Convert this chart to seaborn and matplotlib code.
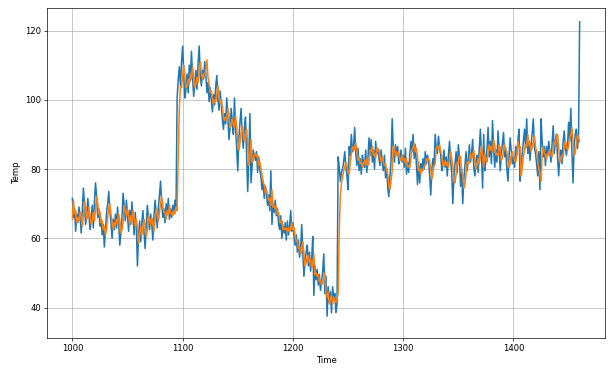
import numpy as np
import pandas as pd
import matplotlib
matplotlib.use("Agg")
import matplotlib.pyplot as plt
import seaborn as sns

# time steps of the validation window
time = np.arange(1000, 1461)

series_a = [71.5, 66.0, 68.5, 62.0, 67.0, 64.5, 69.0, 66.5, 61.5, 68.0,
            74.5, 70.0, 64.0, 66.5, 71.5, 67.0, 62.5, 65.0, 69.5, 63.0,
            70.5, 76.0, 72.0, 66.0, 68.5, 63.5, 65.5, 61.0, 64.0, 57.5,
            62.0, 67.5, 70.0, 73.5, 68.0, 64.5, 60.0, 65.5, 62.5, 67.0,
            63.0, 69.0, 64.5, 58.0, 61.5, 66.0, 73.0, 69.5, 65.0, 71.0,
            66.5, 62.0, 68.0, 64.0, 70.5, 66.0, 61.0, 67.5, 63.5, 52.0,
            60.5, 65.0, 59.0, 64.5, 68.0, 61.5, 57.0, 63.0, 69.5, 66.0,
            62.5, 67.0, 64.0, 59.5, 66.5, 71.0, 67.5, 63.0, 69.0, 72.5,
            76.5, 70.0, 66.0, 68.5, 64.5, 70.0, 67.0, 71.5, 65.5, 68.5,
            66.0, 69.5, 67.5, 71.0, 68.5]
series_b = [100.5, 106.0, 109.5, 104.0, 111.0, 115.5, 108.0, 100.5, 103.0, 107.5,
            102.0, 110.0, 105.5, 114.0, 106.5, 101.0, 104.5, 108.5, 103.0, 110.5,
            115.5, 107.0, 104.0, 108.5, 106.0, 111.0, 107.5, 102.0, 105.0, 99.5,
            103.5, 100.0, 96.5, 101.5, 98.5, 104.0, 107.0, 100.0, 97.0, 102.5,
            99.0, 94.5, 91.5, 96.0, 93.0, 100.5, 95.0, 88.5, 92.0, 97.5,
            94.0, 90.0, 100.5, 91.5, 86.0, 79.5, 89.0, 93.5, 97.5, 90.0,
            86.0, 92.0, 95.0, 84.5, 73.5, 83.0, 96.0, 76.0, 81.0, 85.5,
            84.0, 82.5, 85.0, 79.0, 83.5, 80.0, 77.5, 74.0, 76.5, 71.5,
            75.0, 73.0, 69.5, 72.5, 68.0, 79.5, 64.0, 70.0, 67.5, 71.0,
            66.5, 68.5, 64.0, 62.5, 66.5, 60.0, 63.5, 61.5, 64.5, 59.5,
            65.0, 61.0, 63.5, 68.0, 62.0, 64.5, 60.5, 58.0, 61.0, 56.0,
            59.5, 54.5, 57.0, 64.0, 55.5, 49.0, 53.5, 56.0, 58.0, 52.0,
            56.0, 50.5, 54.0, 60.5, 43.5, 52.0, 48.0, 51.0, 46.5, 49.5,
            45.0, 47.5, 50.5, 55.5, 44.0, 49.0, 37.5, 46.0, 41.5, 44.5,
            38.5, 46.0, 42.5, 44.0, 38.5, 41.0]
series_c = [83.5, 80.5, 76.5, 79.0, 80.0, 82.0, 85.0, 81.0, 78.0, 74.0,
            86.5, 84.0, 90.0, 85.0, 86.5, 92.0, 84.5, 81.0, 86.0, 79.5,
            83.0, 78.5, 84.0, 82.0, 80.5, 85.5, 79.0, 83.0, 89.0, 84.0,
            88.5, 82.0, 85.5, 80.0, 88.0, 84.5, 86.0, 83.0, 81.0, 85.5,
            82.0, 79.5, 84.0, 77.5, 80.0, 74.5, 72.0, 78.0, 82.5, 94.5,
            86.0, 82.0, 87.0, 84.0, 86.5, 81.5, 83.0, 85.5, 82.0, 84.0,
            80.5, 86.0, 78.5, 82.0, 79.0, 84.5, 88.0, 85.0, 90.0, 83.0,
            87.0, 81.5, 75.5, 82.0, 76.0, 81.5, 79.5, 83.0, 80.0, 85.0,
            81.5, 84.0, 82.5, 78.0, 72.5, 80.0, 83.0, 81.0, 90.0, 86.0,
            84.5, 89.5, 86.0, 84.0, 79.5, 81.0, 85.5, 80.5, 83.5, 78.0,
            84.0, 88.0, 82.5, 79.0, 70.0, 77.5, 81.5, 85.0, 79.0, 87.0,
            83.5, 75.0, 80.0, 70.0, 77.0, 81.0, 85.0, 79.5, 82.5, 87.0,
            82.0, 84.5, 88.5, 80.5, 78.0, 82.5, 84.0, 79.0, 86.0, 91.5,
            84.5, 74.5, 90.0, 79.5, 82.5, 86.0, 92.0, 83.5, 88.0, 81.5,
            94.0, 86.0, 80.5, 85.5, 82.0, 91.0, 85.0, 79.5, 84.0, 87.5,
            90.5, 83.5, 86.0, 80.0, 76.5, 84.0, 89.0, 85.0, 81.5, 83.5,
            80.5, 86.5, 84.0, 88.0, 91.5, 76.5, 82.0, 84.5, 88.0, 91.5,
            86.0, 94.5, 84.5, 88.0, 82.5, 87.0, 90.5, 94.5, 86.0, 84.5,
            81.5, 78.0, 85.0, 74.0, 94.5, 88.0, 83.5, 86.5, 81.0, 86.5,
            84.0, 88.0, 85.0, 82.0, 87.0, 92.5, 84.5, 88.0, 90.0, 83.0,
            78.0, 84.0, 85.5, 81.5, 88.0, 91.0, 86.5, 84.0, 86.5, 93.5,
            88.0, 97.5, 85.0, 76.0, 86.5, 90.0, 91.5, 86.0, 89.0, 122.5]

# forecast (orange)
forecast_a = [65.5, 71.0, 67.0, 68.0, 64.5, 66.0, 65.0, 67.5, 66.0, 63.5,
              66.5, 70.5, 69.0, 65.5, 66.0, 69.0, 66.5, 64.0, 65.0, 67.5,
              65.0, 68.5, 72.0, 70.0, 67.0, 67.5, 64.5, 65.0, 62.5, 63.5,
              61.0, 62.5, 66.0, 68.5, 70.0, 67.0, 65.0, 62.5, 64.5, 63.5,
              65.5, 64.0, 67.0, 65.0, 61.5, 62.5, 65.0, 69.5, 68.0, 66.5,
              68.5, 66.5, 64.0, 66.5, 65.0, 68.0, 66.0, 63.5, 65.5, 63.0,
              58.5, 61.0, 63.5, 61.0, 63.0, 65.5, 63.5, 60.5, 62.5, 66.5,
              65.5, 64.0, 66.0, 64.5, 62.0, 65.0, 68.5, 67.0, 65.0, 67.5,
              70.0, 72.0, 69.5, 67.5, 67.5, 65.5, 68.0, 67.0, 69.5, 67.0,
              67.5, 66.5, 68.0, 67.0, 69.0]
forecast_b = [68.0, 84.0, 97.5, 104.0, 103.5, 107.0, 110.0, 106.5, 103.5, 104.0,
              106.0, 104.5, 107.5, 106.0, 109.5, 106.5, 103.5, 104.5, 106.5, 105.0,
              108.0, 111.0, 108.0, 106.0, 107.5, 107.0, 109.0, 111.5, 106.5, 104.5,
              102.0, 102.5, 100.5, 98.5, 100.0, 99.5, 101.5, 104.0, 101.0, 99.0,
              100.0, 98.0, 95.0, 94.0, 95.0, 94.5, 97.5, 95.5, 92.0, 92.5,
              94.5, 93.0, 92.0, 95.5, 92.0, 88.0, 85.5, 87.5, 90.5, 92.5,
              89.5, 88.0, 90.0, 91.5, 87.0, 81.0, 83.5, 88.5, 82.0, 82.5,
              84.0, 84.5, 83.5, 84.0, 81.0, 82.0, 80.0, 78.5, 76.0, 75.5,
              73.0, 74.0, 72.5, 71.0, 71.5, 69.5, 74.0, 69.0, 69.5, 68.5,
              69.0, 67.0, 67.5, 65.5, 64.5, 65.0, 62.5, 63.0, 62.5, 63.0,
              61.5, 63.0, 62.0, 62.5, 64.5, 62.5, 63.0, 60.5, 59.0, 59.5,
              57.0, 57.5, 55.5, 56.0, 59.0, 55.5, 52.0, 53.0, 54.5, 55.0,
              53.0, 54.0, 51.5, 52.5, 55.5, 49.5, 50.0, 49.0, 49.5, 47.5,
              48.0, 46.5, 47.0, 48.5, 50.0, 44.0, 43.0, 44.5, 41.0, 42.5,
              43.5, 41.0, 43.0, 42.0, 41.5, 42.5]
forecast_c = [44.0, 62.0, 72.5, 76.0, 77.5, 79.5, 80.5, 82.0, 81.0, 79.0,
              78.5, 82.0, 84.5, 86.5, 86.0, 85.5, 87.5, 85.0, 82.5, 83.5,
              81.5, 82.0, 80.5, 81.5, 82.5, 81.0, 83.0, 81.0, 82.0, 85.5,
              85.0, 86.5, 84.0, 84.5, 83.0, 86.0, 85.0, 85.5, 83.5, 82.0,
              83.5, 82.0, 81.0, 81.5, 79.5, 78.5, 75.5, 74.0, 76.5, 79.5,
              86.5, 86.0, 83.5, 85.0, 84.0, 85.0, 82.5, 82.5, 84.0, 82.5,
              83.0, 81.5, 83.0, 80.5, 81.0, 80.5, 83.0, 85.5, 86.0, 87.5,
              85.0, 86.0, 83.5, 79.5, 80.0, 78.5, 80.0, 79.5, 81.0, 81.0,
              83.0, 82.5, 83.0, 82.0, 80.0, 77.0, 79.0, 81.0, 81.5, 86.0,
              86.5, 86.0, 87.0, 85.0, 84.0, 81.0, 81.0, 82.5, 81.0, 82.0,
              80.5, 82.5, 85.0, 83.0, 81.0, 76.5, 76.0, 78.5, 82.0, 81.5,
              84.0, 83.5, 79.0, 78.5, 74.5, 75.5, 78.5, 82.0, 81.5, 82.5,
              84.5, 83.0, 84.0, 85.5, 82.0, 80.0, 81.0, 83.0, 81.5, 83.5,
              86.5, 84.0, 80.5, 84.5, 82.5, 82.0, 84.5, 87.0, 85.5, 86.5,
              85.0, 88.5, 87.0, 84.0, 84.5, 84.0, 87.0, 86.0, 82.5, 83.5,
              85.0, 87.0, 85.5, 85.0, 82.0, 80.5, 81.5, 84.0, 85.0, 83.5,
              82.5, 82.0, 84.0, 88.0, 86.0, 86.5, 78.0, 80.5, 83.5, 85.5,
              87.0, 86.5, 90.0, 87.0, 87.5, 85.0, 86.5, 88.0, 89.5, 86.5,
              85.0, 82.5, 80.0, 78.5, 76.5, 84.0, 86.5, 84.5, 84.0, 83.0,
              84.5, 84.0, 85.5, 84.5, 83.5, 85.0, 88.0, 87.0, 89.5, 90.0,
              86.0, 82.0, 82.5, 84.0, 83.5, 86.0, 88.0, 87.0, 85.5, 86.5,
              89.0, 90.0, 92.0, 88.0, 84.0, 84.5, 87.0, 90.0, 89.0, 88.0]

df = pd.DataFrame({
    "Time": time,
    "actual": series_a + series_b + series_c,
    "forecast": forecast_a + forecast_b + forecast_c,
})

dpi = 61.2
fig = plt.figure(figsize=(612 / dpi, 371 / dpi), dpi=dpi)
ax = fig.add_axes([47 / 612, 1 - 338 / 371, (605 - 47) / 612, (338 - 8) / 371])

sns.lineplot(data=df, x="Time", y="actual", color="#1f77b4", linewidth=1.8, ax=ax)
sns.lineplot(data=df, x="Time", y="forecast", color="#ff7f0e", linewidth=1.8, ax=ax)

ax.set_xlim(977, 1483)
ax.set_ylim(31.2, 126.5)
ax.set_xlabel("Time")
ax.set_ylabel("Temp")
ax.grid(True)

fig.savefig("out.png", dpi=dpi)
